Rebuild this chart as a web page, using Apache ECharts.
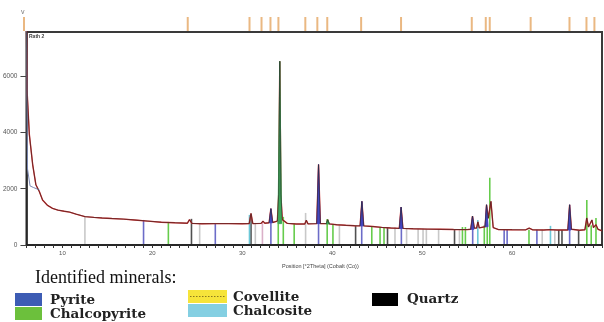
<!DOCTYPE html>
<html><head><meta charset="utf-8">
<script src="https://cdn.jsdelivr.net/npm/echarts@6/dist/echarts.min.js"></script>
<style>html,body{margin:0;padding:0;background:#fff}#c{width:604px;height:322px}</style>
</head><body><div id="c"></div>
<script>
// ---- data ----
const xTickLabels = [10, 20, 30, 40, 50, 60];
const yTickLabels = [0, 2000, 4000, 6000];
const observed = [
[6.0,8000],[6.06,5530],[6.32,3930],[6.69,2860],[7.05,2140],[7.43,1900],[7.79,1600],[8.3,1420],[8.9,1300],[9.5,1240],[10.2,1200],[10.8,1170],[11.5,1100],[12.5,1010],[13.5,980],[14.4,960],[15.5,940],[16.8,920],[18.0,890],[19.5,850],[21.0,810],[22.5,790],[23.9,775],[24.13,900],[24.4,770],[25.5,755],[27.0,760],[28.5,760],[30.0,755],[30.77,760],[30.97,1120],[31.17,760],[32.1,770],[32.3,850],[32.5,775],[32.98,790],[33.18,1290],[33.38,800],[33.9,850],[34.05,1800],[34.17,6530],[34.29,1800],[34.45,900],[35.0,770],[36.0,745],[36.95,745],[37.12,880],[37.3,750],[38.28,760],[38.48,2860],[38.68,760],[39.35,760],[39.5,900],[39.65,750],[40.5,720],[41.5,700],[42.5,685],[43.1,680],[43.3,1550],[43.5,680],[44.5,655],[45.5,625],[46.5,605],[47.46,590],[47.66,1345],[47.86,590],[49.0,575],[50.5,565],[52.0,558],[53.5,552],[55.0,548],[55.4,560],[55.6,1030],[55.8,600],[56.05,600],[56.2,820],[56.35,610],[57.0,650],[57.16,1430],[57.35,950],[57.65,1550],[57.9,620],[58.5,548],[60.0,542],[61.5,538],[61.9,600],[62.3,538],[63.5,532],[64.2,545],[65.0,532],[66.2,535],[66.4,1430],[66.6,560],[67.5,525],[68.1,540],[68.3,960],[68.5,640],[68.7,620],[68.88,890],[69.05,620],[69.33,720],[69.55,560],[70.0,500]
];
const backgroundFit = [[6.0,8000],[6.12,2700],[6.4,2100],[6.8,2040],[7.43,1960]];
// peak profiles per phase: [position, top, base]
const pyritePeaks = [[33.18,1290,790],[38.48,2860,760],[43.3,1550,680],[47.66,1345,590],[55.6,1030,560],[57.16,1430,650],[66.4,1430,535]];
const chalcopyritePeaks = [[34.17,6530,760],[39.5,900,750]];
// reference sticks: [position, height]
const pyriteSticks = [[19.02,890],[27.0,750],[33.18,1180],[38.48,1800],[43.28,1200],[47.69,1000],[55.62,900],[59.12,560],[59.45,560],[62.76,540],[66.4,1000]];
const chalcopyriteSticks = [[21.78,820],[34.0,1000],[34.56,1000],[35.77,760],[39.44,920],[40.08,720],[44.4,650],[45.32,640],[45.76,640],[54.48,640],[54.81,640],[56.91,700],[57.24,1200],[57.52,2390],[61.88,540],[68.31,1600],[68.8,700],[69.33,960]];
const quartzSticks = [[24.35,930],[30.97,1070],[42.6,680],[46.15,630],[53.6,560],[65.19,530],[65.55,530],[67.4,520]];
const chalcositeSticks = [[30.8,1070],[56.19,890],[64.27,680]];
const otherSticks = [[12.5,1000],[25.26,750],[31.45,785],[37.04,1140],[40.8,700],[46.98,620],[48.27,600],[49.55,580],[50.1,580],[50.47,575],[51.83,570],[54.15,560],[63.35,540],[64.75,530]];
const pinkSticks = [[32.24,820]];
const peakList = [6.0,24.13,30.97,32.3,33.29,34.17,37.15,38.48,39.58,43.33,47.75,55.58,57.13,57.57,62.1,66.4,68.28,69.16];

// ---- chart ----
const minorTicks = [];
for (let v = 6; v <= 70; v++) minorTicks.push(v);

function stickSeries(name, data, color, width) {
  return {
    name, type: 'custom', xAxisIndex: 0, yAxisIndex: 0, data, z: 2,
    encode: { x: 0, y: 1 },
    renderItem(params, api) {
      const p0 = api.coord([api.value(0), 0]);
      const p1 = api.coord([api.value(0), api.value(1)]);
      return { type: 'line', shape: { x1: p0[0], y1: p0[1] - 1, x2: p1[0], y2: p1[1] },
        style: { stroke: color, lineWidth: width || 1.6 } };
    }
  };
}
function peakSeries(name, data, color, hw) {
  return {
    name, type: 'custom', xAxisIndex: 0, yAxisIndex: 0, data, z: 4,
    encode: { x: 0, y: 1 },
    renderItem(params, api) {
      const c = api.value(0), top = api.value(1), base = api.value(2);
      const pts = [api.coord([c - hw, base]), api.coord([c, top]), api.coord([c + hw, base])];
      return { type: 'polygon', shape: { points: pts }, style: { fill: color, stroke: color, lineWidth: 1 } };
    }
  };
}

const chart = echarts.init(document.getElementById('c'), null, { renderer: 'canvas' });
chart.setOption({
  backgroundColor: '#fff',
  animation: false,
  grid: [
    { left: 24, right: 2, top: 32, bottom: 77, show: true, borderColor: '#3a3a3a', borderWidth: 2, backgroundColor: 'transparent' },
    { left: 24, right: 2, top: 17, height: 14 }
  ],
  xAxis: [
    { type: 'value', gridIndex: 0, min: 6, max: 70,
      axisLine: { show: true, onZero: false, lineStyle: { color: '#222', width: 1.5 } },
      axisTick: { show: true, customValues: minorTicks, length: 3, lineStyle: { color: '#333' } },
      axisLabel: { customValues: xTickLabels, fontSize: 6, color: '#555', margin: 5, fontFamily: 'Arial, Liberation Sans', formatter: v => String(v) },
      splitLine: { show: false } },
    { type: 'value', gridIndex: 1, min: 6, max: 70, show: false }
  ],
  yAxis: [
    { type: 'value', gridIndex: 0, min: 0, max: 7570,
      axisLine: { show: true, lineStyle: { color: '#222', width: 1.5 } },
      axisTick: { show: true, customValues: yTickLabels, length: 6, lineStyle: { color: '#444' } },
      axisLabel: { customValues: yTickLabels, fontSize: 6.5, color: '#555', margin: 9, fontFamily: 'Arial, Liberation Sans', formatter: v => String(v) },
      splitLine: { show: false } },
    { type: 'value', gridIndex: 1, min: 0, max: 1, show: false }
  ],
  series: [
    stickSeries('Other', otherSticks, '#c8c8c8'),
    stickSeries('Unknown', pinkSticks, '#dab0c8'),
    stickSeries('Quartz', quartzSticks, '#505050'),
    stickSeries('Chalcosite', chalcositeSticks, '#6cc8d8'),
    stickSeries('Chalcopyrite', chalcopyriteSticks, '#66cc4c'),
    stickSeries('Pyrite', pyriteSticks, '#6c6cc8'),
    { name: 'Observed', type: 'line', data: observed, showSymbol: false, symbol: 'none', z: 3,
      lineStyle: { color: '#d42a2a', width: 1.4 }, clip: true },
    { name: 'Background', type: 'line', data: backgroundFit, showSymbol: false, symbol: 'none', z: 3,
      lineStyle: { color: '#7b88b4', width: 1 }, clip: true },
    peakSeries('Pyrite profile', pyritePeaks, '#4444c0', 0.17),
    peakSeries('Chalcopyrite profile', chalcopyritePeaks, '#3fa85a', 0.2),
    { name: 'Fit', type: 'line', data: observed, showSymbol: false, symbol: 'none', z: 5,
      lineStyle: { color: '#262626', width: 0.7, opacity: 0.85 }, clip: true },
    { name: 'Peak list', type: 'custom', xAxisIndex: 1, yAxisIndex: 1, data: peakList.map(v => [v]),
      encode: { x: 0 },
      renderItem(params, api) {
        const p0 = api.coord([api.value(0), 0]);
        const p1 = api.coord([api.value(0), 1]);
        return { type: 'line', shape: { x1: p0[0], y1: p0[1], x2: p1[0], y2: p1[1] },
          style: { stroke: '#eab882', lineWidth: 2 } };
      } }
  ],
  graphic: [
    { type: 'text', left: 21, top: 9, style: { text: 'v', fontSize: 7, fill: '#777', fontFamily: 'Arial' } },
    { type: 'text', left: 29, top: 34, z: 100, style: { text: 'Rath 2', fontSize: 5, fontWeight: 'bold', fill: '#444', fontFamily: 'Arial' } },
    { type: 'text', left: 282, top: 263, style: { text: 'Position [°2Theta] (Cobalt (Co))', fontSize: 5.5, fill: '#444', fontFamily: 'Arial' } },
    { type: 'text', left: 35, top: 269, style: { text: 'Identified minerals:', fontSize: 18, fill: '#111', fontFamily: 'Liberation Serif, Times New Roman, serif' } },
    { type: 'rect', shape: { x: 15, y: 293, width: 27, height: 13 }, style: { fill: '#3d5cb4' } },
    { type: 'rect', shape: { x: 15, y: 307, width: 27, height: 13 }, style: { fill: '#6cc03c' } },
    { type: 'text', left: 50, top: 293, style: { text: 'Pyrite', fontSize: 13.5, fontWeight: 'bold', fill: '#222', fontFamily: 'DejaVu Serif, serif' } },
    { type: 'text', left: 50, top: 307, style: { text: 'Chalcopyrite', fontSize: 13.5, fontWeight: 'bold', fill: '#222', fontFamily: 'DejaVu Serif, serif' } },
    { type: 'rect', shape: { x: 188, y: 290, width: 39, height: 13 }, style: { fill: '#f6e43a' } },
    { type: 'line', shape: { x1: 190, y1: 296.5, x2: 225, y2: 296.5 }, style: { stroke: '#8a7a20', lineWidth: 1, lineDash: [1.5, 1.5] } },
    { type: 'rect', shape: { x: 188, y: 304, width: 39, height: 13 }, style: { fill: '#84cfe2' } },
    { type: 'text', left: 233, top: 290, style: { text: 'Covellite', fontSize: 13.5, fontWeight: 'bold', fill: '#222', fontFamily: 'DejaVu Serif, serif' } },
    { type: 'text', left: 233, top: 304, style: { text: 'Chalcosite', fontSize: 13.5, fontWeight: 'bold', fill: '#222', fontFamily: 'DejaVu Serif, serif' } },
    { type: 'rect', shape: { x: 372, y: 293, width: 26, height: 13 }, style: { fill: '#000' } },
    { type: 'text', left: 407, top: 292, style: { text: 'Quartz', fontSize: 13.5, fontWeight: 'bold', fill: '#222', fontFamily: 'DejaVu Serif, serif' } }
  ]
});
</script></body></html>
